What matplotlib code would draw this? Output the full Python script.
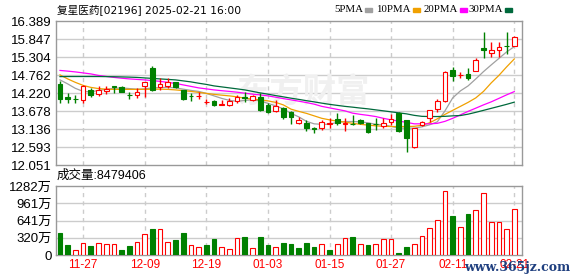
import numpy as np
import matplotlib.pyplot as plt
from matplotlib.patches import Rectangle

# trading days shown on the chart (HK, 2024-11-22 .. 2025-02-21)
dates = ["11-22", "11-25", "11-26", "11-27", "11-28", "11-29", "12-02", "12-03", "12-04", "12-05",
         "12-06", "12-09", "12-10", "12-11", "12-12", "12-13", "12-16", "12-17", "12-18", "12-19",
         "12-20", "12-23", "12-24", "12-27", "12-30", "12-31", "01-02", "01-03", "01-06", "01-07",
         "01-08", "01-09", "01-10", "01-13", "01-14", "01-15", "01-16", "01-17", "01-20", "01-21",
         "01-22", "01-23", "01-24", "01-27", "01-28", "02-03", "02-04", "02-05", "02-06", "02-07",
         "02-10", "02-11", "02-12", "02-13", "02-14", "02-17", "02-18", "02-19", "02-20", "02-21"]

opens = [14.490, 14.117, 14.047, 14.017, 14.318, 14.198, 14.297, 14.424, 14.400, 14.168,
         14.159, 14.430, 14.981, 14.409, 14.424, 14.551, 14.303, 14.147, 14.129, 13.957,
         13.996, 13.857, 13.857, 13.993, 14.101, 14.008, 14.108, 13.866, 13.695, 13.767,
         13.664, 13.315, 13.333, 13.164, 13.164, 13.294, 13.435, 13.294, 13.294, 13.414,
         13.315, 13.294, 13.243, 13.363, 13.616, 13.414, 12.580, 13.264, 13.484, 13.737,
         13.996, 14.921, 14.765, 14.801, 14.891, 15.575, 15.425, 15.533, 15.651, 15.636]
highs = [14.599, 14.219, 14.168, 14.469, 14.370, 14.439, 14.439, 14.439, 14.439, 14.249,
         14.370, 14.560, 15.042, 14.671, 14.671, 14.569, 14.318, 14.219, 14.243, 14.038,
         14.017, 14.017, 14.068, 14.168, 14.267, 14.153, 14.219, 13.918, 14.017, 13.815,
         13.695, 13.514, 13.414, 13.212, 13.414, 13.466, 13.616, 13.466, 13.565, 13.445,
         13.324, 13.484, 13.484, 13.586, 13.646, 13.414, 13.182, 13.384, 13.701, 14.047,
         14.891, 15.021, 14.870, 14.991, 15.274, 16.051, 15.774, 15.765, 16.051, 15.955]
lows = [13.918, 13.918, 13.918, 13.918, 14.117, 14.147, 14.198, 14.219, 14.243, 14.047,
        14.068, 14.117, 14.288, 14.318, 14.379, 14.379, 14.002, 13.987, 14.038, 13.888,
        13.836, 13.851, 13.836, 13.918, 13.966, 13.996, 13.686, 13.616, 13.664, 13.435,
        13.294, 13.294, 13.083, 13.014, 13.113, 13.164, 13.264, 13.092, 13.264, 13.294,
        13.023, 13.113, 13.164, 13.264, 13.062, 12.441, 12.570, 13.234, 13.363, 13.664,
        13.966, 14.590, 14.671, 14.620, 14.876, 15.274, 15.298, 15.298, 15.404, 15.630]
closes = [14.038, 14.030, 14.038, 14.439, 14.168, 14.318, 14.340, 14.415, 14.267, 14.159,
          14.267, 14.551, 14.303, 14.499, 14.569, 14.418, 14.038, 14.138, 14.140, 13.966,
          13.857, 13.897, 13.996, 14.092, 14.085, 14.138, 13.716, 13.664, 13.836, 13.514,
          13.496, 13.414, 13.173, 13.128, 13.339, 13.306, 13.315, 13.320, 13.279, 13.315,
          13.062, 13.285, 13.315, 13.429, 13.083, 12.881, 13.182, 13.354, 13.701, 13.978,
          14.852, 14.750, 14.777, 14.665, 15.223, 15.515, 15.524, 15.605, 15.639, 15.925]

# volume in 万股
volumes = [415, 180, 88, 223, 167, 223, 205, 205, 99, 167,
           242, 390, 484, 484, 242, 279, 415, 186, 149, 186,
           298, 149, 106, 311, 335, 130, 335, 186, 143, 223,
           205, 130, 223, 149, 199, 93, 199, 311, 335, 199,
           186, 199, 292, 292, 37, 149, 199, 348, 497, 645,
           1184, 725, 515, 762, 831, 1147, 608, 608, 478, 848]

ma5 = [14.620, 14.499, 14.364, 14.273, 14.258, 14.303, 14.334, 14.364, 14.379, 14.358,
       14.340, 14.349, 14.379, 14.388, 14.394, 14.379, 14.340, 14.303, 14.273, 14.213,
       14.138, 14.062, 14.002, 13.972, 14.002, 14.017, 13.987, 13.912, 13.836, 13.746,
       13.610, 13.505, 13.369, 13.294, 13.279, 13.279, 13.339, 13.363, 13.363, 13.354,
       13.324, 13.279, 13.264, 13.219, 13.164, 13.164, 13.164, 13.203, 13.264, 13.354,
       13.686, 14.077, 14.288, 14.439, 14.650, 14.870, 15.072, 15.268, 15.464, 15.624]
ma10 = [14.771, 14.650, 14.545, 14.454, 14.394, 14.358, 14.340, 14.334, 14.334, 14.334,
        14.334, 14.334, 14.340, 14.340, 14.334, 14.318, 14.297, 14.273, 14.243, 14.213,
        14.183, 14.159, 14.138, 14.108, 14.068, 14.038, 14.017, 13.987, 13.942, 13.866,
        13.737, 13.670, 13.610, 13.535, 13.460, 13.414, 13.375, 13.345, 13.309, 13.279,
        13.255, 13.234, 13.219, 13.212, 13.212, 13.212, 13.219, 13.249, 13.324, 13.445,
        13.580, 13.701, 13.821, 13.942, 14.077, 14.273, 14.529, 14.756, 15.012, 15.253]
ma20 = [14.906, 14.885, 14.861, 14.831, 14.801, 14.755, 14.725, 14.695, 14.671, 14.650,
        14.635, 14.620, 14.599, 14.575, 14.545, 14.514, 14.469, 14.424, 14.379, 14.349,
        14.318, 14.294, 14.273, 14.249, 14.219, 14.189, 14.168, 14.138, 14.098, 14.056,
        14.017, 13.978, 13.936, 13.888, 13.821, 13.776, 13.731, 13.686, 13.616, 13.580,
        13.550, 13.514, 13.460, 13.414, 13.375, 13.339, 13.294, 13.294, 13.294, 13.309,
        13.369, 13.460, 13.565, 13.670, 13.767, 13.866, 13.957, 14.062, 14.168, 14.267]
ma30 = [14.719, 14.722, 14.722, 14.722, 14.722, 14.722, 14.719, 14.716, 14.710, 14.704,
        14.695, 14.680, 14.665, 14.650, 14.635, 14.620, 14.590, 14.560, 14.520, 14.484,
        14.439, 14.409, 14.379, 14.349, 14.318, 14.273, 14.228, 14.189, 14.147, 14.108,
        14.068, 14.032, 13.993, 13.957, 13.918, 13.882, 13.851, 13.821, 13.797, 13.770,
        13.746, 13.716, 13.686, 13.656, 13.625, 13.595, 13.550, 13.520, 13.514, 13.514,
        13.520, 13.535, 13.544, 13.586, 13.641, 13.701, 13.761, 13.821, 13.882, 13.948]

price_ticks = [12.051, 12.593, 13.136, 13.678, 14.220, 14.762, 15.304, 15.847, 16.389]
vol_ticks = [0, 320, 641, 961, 1282]
vol_tick_labels = ["0", "320万", "641万", "961万", "1282万"]
date_ticks = ["11-27", "12-09", "12-19", "01-03", "01-15", "01-27", "02-11", "02-21"]

title = "复星医药[02196] 2025-02-21 16:00"
vol_title = "成交量:8479406"

RED = "#ff0000"
GREEN = "#008000"
ma_names = ["5PMA", "10PMA", "20PMA", "30PMA"]
ma_colors = ["#a0a0a0", "#f0a000", "#ff00ff", "#00693c"]

W, H = 578, 276
fig = plt.figure(figsize=(W / 100, H / 100), dpi=100)
ax = fig.add_axes([56 / W, 1 - 165 / H, 466 / W, 143.7 / H])
axv = fig.add_axes([56 / W, 1 - 255 / H, 466 / W, 69 / H])

x = np.arange(len(dates))
o = np.array(opens)
c = np.array(closes)
up = c >= o
tick_pos = [dates.index(d) for d in date_ticks]

num_font = ["Liberation Sans", "Noto Sans CJK SC"]

for a in (ax, axv):
    a.set_xlim(-0.52, 60.0)
    for s in a.spines.values():
        s.set_color("#999999")
        s.set_linewidth(1.0)
    a.set_axisbelow(True)
    a.tick_params(length=0, pad=3)
    for p in tick_pos:
        a.axvline(p, color="#cccccc", lw=1.0, ls=(0, (3, 3)), zorder=0)

# price panel
ax.set_ylim(price_ticks[0], price_ticks[-1])
ax.set_yticks(price_ticks)
ax.set_yticklabels([f"{v:.3f}" for v in price_ticks], family=num_font, fontsize=9.5)
ax.set_xticks([])
for v in price_ticks[1:-1]:
    ax.axhline(v, color="#cccccc", lw=1.0, zorder=0)

# faint site watermark
ax.text(0.53, 0.5, "东方财富", transform=ax.transAxes, fontsize=24, color="#f0f0f0",
        family="Noto Sans CJK SC", fontweight="bold", ha="center", va="center", zorder=0.5)

for vals, col in zip([ma5, ma10, ma20, ma30], ma_colors):
    ax.plot(x, vals, color=col, lw=0.9, zorder=1.5)

cols = np.where(up, RED, GREEN)
ax.vlines(x, lows, highs, colors=cols, lw=1.0, zorder=2)
body_h = np.maximum(np.abs(c - o), 0.002)
ax.bar(x, body_h, bottom=np.minimum(o, c), width=0.62,
       color=np.where(up, "white", GREEN), edgecolor=cols, lw=0.8, zorder=3)

# volume panel
prev = np.concatenate([[opens[0]], closes[:-1]])
vup = c >= prev
axv.set_ylim(0, vol_ticks[-1])
axv.set_yticks(vol_ticks)
axv.set_yticklabels(vol_tick_labels, family=num_font, fontsize=9.5)
for v in vol_ticks[1:-1]:
    axv.axhline(v, color="#cccccc", lw=1.0, zorder=0)
axv.set_xticks(tick_pos)
axv.set_xticklabels(date_ticks, color=RED, family=num_font, fontsize=8.5)
axv.bar(x, volumes, width=0.62, color=np.where(vup, "white", GREEN),
        edgecolor=np.where(vup, RED, GREEN), lw=0.8, zorder=3)

# header texts
fig.text(57 / W, 1 - 10 / H, title, family=["DejaVu Sans", "Noto Sans CJK SC"],
         fontsize=7.7, va="center", ha="left")
fig.text(57 / W, 1 - 176 / H, vol_title, family=num_font, fontsize=9, va="center", ha="left")

# legend: name right-aligned just before its colour box
box_x = [365, 413, 460, 505]
for name, col, bx in zip(ma_names, ma_colors, box_x):
    fig.text((bx - 2) / W, 1 - 9.5 / H, name, family="Liberation Serif", fontsize=7.8,
             va="center", ha="right")
    fig.patches.append(Rectangle((bx / W, 1 - 11.5 / H), 7 / W, 4 / H, color=col,
                                 transform=fig.transFigure, figure=fig))

fig.text(570 / W, 1 - 267 / H, "www.365jz.com", family="DejaVu Serif", fontweight="bold",
         fontsize=9, color="#1f3f7f", ha="right", va="center")

fig.savefig("out.png", dpi=100)
